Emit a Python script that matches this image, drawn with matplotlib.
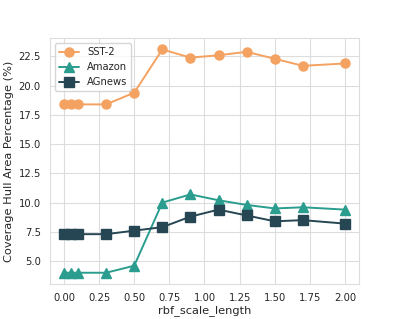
import matplotlib
matplotlib.use("Agg")
import matplotlib.pyplot as plt
import seaborn as sns

# ── Data ─────────────────────────────────────────────────────────────────────
rbf_scale = [0.0, 0.05, 0.1, 0.3, 0.5, 0.7, 0.9, 1.1, 1.3, 1.5, 1.7, 2.0]
sst2 = [18.4, 18.4, 18.4, 18.4, 19.4, 23.1, 22.4, 22.6, 22.9, 22.3, 21.7, 21.9]
amazon = [4.0, 4.0, 4.0, 4.0, 4.6, 10.0, 10.7, 10.2, 9.8, 9.5, 9.6, 9.4]
agnews = [7.3, 7.3, 7.3, 7.3, 7.6, 7.9, 8.8, 9.4, 8.9, 8.4, 8.5, 8.2]

sns.set_style("whitegrid")

fig, ax = plt.subplots(figsize=(3.99, 3.19), dpi=100)

ax.plot(rbf_scale, sst2, marker="o", color="#F4A261", label="SST-2",
        linewidth=1.4, markersize=6.5)
ax.plot(rbf_scale, amazon, marker="^", color="#2A9D8F", label="Amazon",
        linewidth=1.4, markersize=6.5)
ax.plot(rbf_scale, agnews, marker="s", color="#264653", label="AGnews",
        linewidth=1.4, markersize=6.5)

ax.set_xlabel("rbf_scale_length", fontsize=8.2, labelpad=1.5)
ax.set_ylabel("Coverage Hull Area Percentage (%)", fontsize=8.2, labelpad=3)
ax.tick_params(labelsize=7.2, pad=3)
ax.grid(color="#dddddd", linewidth=0.8)
for s in ax.spines.values():
    s.set_color("#dddddd")
ax.legend(loc="upper left", fontsize=7.2)

fig.savefig("out.png", dpi=100)
